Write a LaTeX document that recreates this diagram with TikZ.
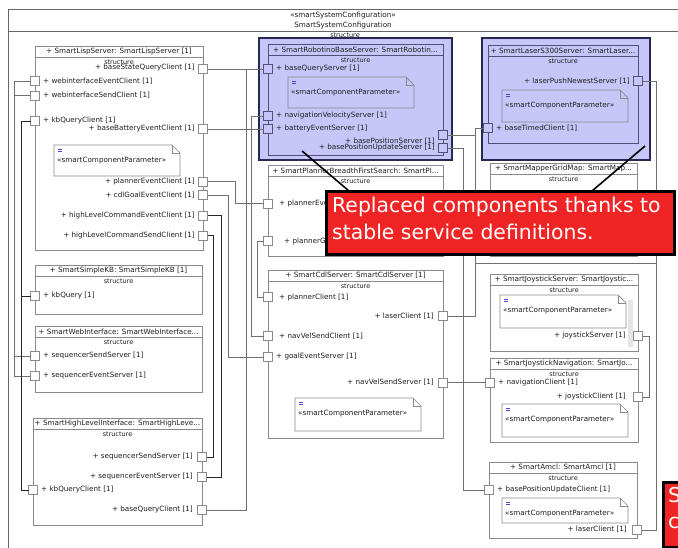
\documentclass[tikz,border=0pt]{standalone}
\usepackage{fontspec}
\setmainfont{DejaVu Sans}
\usetikzlibrary{calc}

\definecolor{partgray}{RGB}{138,138,138}
\definecolor{conngray}{RGB}{112,112,112}
\definecolor{txt}{RGB}{30,30,30}
\definecolor{selfill}{RGB}{198,198,248}
\definecolor{selborder}{RGB}{40,40,85}
\definecolor{selpartcol}{RGB}{80,80,120}
\definecolor{iconblue}{RGB}{70,70,210}
\definecolor{calloutred}{RGB}{240,36,36}

% one part (component instance) with its header line, title and "structure" caption
\newcommand\partbox[7]{%
  \node[partframe,#7,minimum width={(#4)-(#2)},minimum height={(#5)-(#3)}] (#1) at ({((#2)+(#4))/2},{((#3)+(#5))/2}) {};
  \draw[#7,fill=none,line width=0.8pt] ([yshift=-11pt]#1.north west) -- ([yshift=-11pt]#1.north east);
  \node[ttl] (#1-title) at ({((#2)+(#4))/2},{(#3)+5.5}) {#6};
  \node[struct] (#1-struct) at ({((#2)+(#4))/2},{(#3)+16}) {structure};
}
% parameter note with folded corner
\newcommand\notebox[6]{%
  \draw[notebody,fill=#6] (#2,#3) -- ({(#4)-8},#3) -- (#4,{(#3)+8}) -- (#4,#5) -- (#2,#5) -- cycle;
  \draw[notebody] ({(#4)-8},#3) -- ({(#4)-8},{(#3)+8}) -- (#4,{(#3)+8});
  \draw[iconline] ({(#2)+4},{(#3)+4.5}) -- ++(4,0) ({(#2)+4},{(#3)+6.5}) -- ++(4,0);
  \node[lbl,anchor=west] (#1-note) at ({(#2)+3},{(#3)+16}) {«smartComponentParameter»};
}

\tikzset{
  sysframe/.style={draw=black!60, line width=0.8pt, fill=white, inner sep=0pt, outer sep=0pt, rectangle},
  selbox/.style={draw=selborder, line width=1.4pt, fill=selfill, inner sep=0pt, outer sep=0pt, rectangle},
  partframe/.style={line width=0.8pt, inner sep=0pt, outer sep=0pt, rectangle},
  plainpart/.style={draw=partgray, fill=white},
  selpart/.style={draw=selpartcol, fill=selfill},
  ttl/.style={font=\fontsize{7.2}{8}\selectfont, text=txt, inner sep=0pt},
  struct/.style={font=\fontsize{6.5}{7}\selectfont, text=txt, inner sep=0pt},
  lbl/.style={font=\fontsize{7.2}{8}\selectfont, text=txt, inner sep=0pt},
  notebody/.style={draw=partgray, line width=0.7pt},
  iconline/.style={draw=iconblue, line width=0.6pt},
  port/.style={draw=partgray, fill=white, line width=0.8pt, rectangle, minimum size=9pt, inner sep=0pt, outer sep=0pt},
  selport/.style={port, draw=selpartcol, fill=selfill},
  conn/.style={draw=conngray, line width=0.8pt},
  connk/.style={draw=black!85, line width=0.9pt},
  callout/.style={fill=calloutred, draw=black, line width=2.8pt, rectangle, inner sep=0pt},
  calltext/.style={font=\fontsize{20.4}{24}\selectfont, text=white, inner sep=0pt, anchor=base west},
  pointer/.style={draw=black, line width=1.6pt}
}

\begin{document}
\begin{tikzpicture}[x=1pt,y=-1pt]
\clip (0,0) rectangle (678,548);
\fill[white] (0,0) rectangle (678,548);

% system configuration frame
\node[sysframe, minimum width=700, minimum height=560, anchor=north west] (sys) at (8,9) {};
\draw[draw=black!60, line width=0.8pt] (sys.north west |- 0,31) -- (700,31);
\node[lbl] (sys-stereo) at (343,16) {«smartSystemConfiguration»};
\node[lbl] (sys-name) at (343,25.5) {SmartSystemConfiguration};
\node[struct] (sys-struct) at (345,35.5) {structure};

% highlighted (replaced) components
\node[selbox, minimum width=193, minimum height=122, anchor=north west] (robhl) at (259,38) {};
\node[selbox, minimum width=168, minimum height=122, anchor=north west] (lashl) at (482,38) {};

% parts
\partbox{lisp}{35}{46}{203}{250}{+ SmartLispServer: SmartLispServer [1]}{plainpart}
\partbox{kb}{35}{265}{202}{314}{+ SmartSimpleKB: SmartSimpleKB [1]}{plainpart}
\partbox{web}{35}{326}{202}{392}{+ SmartWebInterface: SmartWebInterface...}{plainpart}
\partbox{hli}{33}{418}{202}{525}{+ SmartHighLevelInterface: SmartHighLeve...}{plainpart}
\partbox{rob}{268}{44}{443}{155}{+ SmartRobotinoBaseServer: SmartRobotin...}{selpart}
\partbox{las}{488}{45}{638}{143}{+ SmartLaserS300Server: SmartLaser...}{selpart}
\partbox{plan}{268}{165}{443}{256}{+ SmartPlannerBreadthFirstSearch: SmartPl...}{plainpart}
\partbox{cdl}{268}{270}{443}{438}{+ SmartCdlServer: SmartCdlServer [1]}{plainpart}
\partbox{map}{490}{163}{637}{256}{+ SmartMapperGridMap: SmartMap...}{plainpart}
\partbox{joy}{490}{274}{638}{351}{+ SmartJoystickServer: SmartJoystic...}{plainpart}
\partbox{jnav}{490}{358}{638}{442}{+ SmartJoystickNavigation: SmartJo...}{plainpart}
\partbox{amcl}{489}{462}{637}{538}{+ SmartAmcl: SmartAmcl [1]}{plainpart}

% scroll strip inside the joystick server
\fill[black!10] (628,300) rectangle (633,347);

% parameter notes
\notebox{lisp}{54}{145}{180}{176}{white}
\notebox{rob}{288}{77}{414}{108}{selfill}
\notebox{las}{502}{90}{628}{122}{selfill}
\notebox{cdl}{295}{398}{421}{431}{white}
\notebox{joy}{500}{295}{626}{328}{white}
\notebox{jnav}{502}{404}{628}{437}{white}
\notebox{amcl}{502}{498}{628}{523}{white}

% ---- ports and their labels ----
% SmartLispServer
\node[port] (bsqc) at (203,69) {};
\node[port] (wiec) at (35,81) {};
\node[port] (wisc) at (35,95.5) {};
\node[port] (kbqc) at (35,121) {};
\node[port] (bbec) at (203,129) {};
\node[port] (pec) at (203,181.5) {};
\node[port] (cgec) at (203,195) {};
\node[port] (hlcec) at (203,215.5) {};
\node[port] (hlcsc) at (203,235.5) {};
\node[lbl,anchor=east] (bsqc-l) at (195,68) {+ baseStateQueryClient [1]};
\node[lbl,anchor=west] (wiec-l) at (43,81) {+ webinterfaceEventClient [1]};
\node[lbl,anchor=west] (wisc-l) at (43,95.5) {+ webinterfaceSendClient [1]};
\node[lbl,anchor=west] (kbqc-l) at (43,121) {+ kbQueryClient [1]};
\node[lbl,anchor=east] (bbec-l) at (195,129) {+ baseBatteryEventClient [1]};
\node[lbl,anchor=east] (pec-l) at (195,181.5) {+ plannerEventClient [1]};
\node[lbl,anchor=east] (cgec-l) at (195,195) {+ cdlGoalEventClient [1]};
\node[lbl,anchor=east] (hlcec-l) at (195,215.5) {+ highLevelCommandEventClient [1]};
\node[lbl,anchor=east] (hlcsc-l) at (195,235.5) {+ highLevelCommandSendClient [1]};

% SmartSimpleKB
\node[port] (kbq) at (35,296) {};
\node[lbl,anchor=west] (kbq-l) at (43,296) {+ kbQuery [1]};

% SmartWebInterface
\node[port] (sss) at (35,356) {};
\node[port] (ses) at (35,376) {};
\node[lbl,anchor=west] (sss-l) at (43,356) {+ sequencerSendServer [1]};
\node[lbl,anchor=west] (ses-l) at (43,376) {+ sequencerEventServer [1]};

% SmartHighLevelInterface
\node[port] (hsss) at (202,457) {};
\node[port] (hses) at (202,477) {};
\node[port] (hkbqc) at (33,490) {};
\node[port] (hbqc) at (202,510) {};
\node[lbl,anchor=east] (hsss-l) at (193,457) {+ sequencerSendServer [1]};
\node[lbl,anchor=east] (hses-l) at (193,477) {+ sequencerEventServer [1]};
\node[lbl,anchor=west] (hkbqc-l) at (41,490) {+ kbQueryClient [1]};
\node[lbl,anchor=east] (hbqc-l) at (193,510) {+ baseQueryClient [1]};

% SmartRobotinoBaseServer
\node[selport] (bqs) at (268,69) {};
\node[selport] (nvs) at (268,116) {};
\node[selport] (bes) at (268,129) {};
\node[selport] (bps) at (443,135) {};
\node[selport] (bpus) at (443,148) {};
\node[lbl,anchor=west] (bqs-l) at (276,69) {+ baseQueryServer [1]};
\node[lbl,anchor=west] (nvs-l) at (276,116) {+ navigationVelocityServer [1]};
\node[lbl,anchor=west] (bes-l) at (276,129) {+ batteryEventServer [1]};
\node[lbl,anchor=east] (bps-l) at (435,141.5) {+ basePositionServer [1]};
\node[lbl,anchor=east] (bpus-l) at (435,148) {+ basePositionUpdateServer [1]};

% SmartLaserS300Server
\node[selport] (lpns) at (638,81) {};
\node[selport] (btc) at (488,128) {};
\node[lbl,anchor=east] (lpns-l) at (630,81) {+ laserPushNewestServer [1]};
\node[lbl,anchor=west] (btc-l) at (496,128.5) {+ baseTimedClient [1]};

% SmartPlannerBreadthFirstSearch
\node[port] (pes) at (268,203.5) {};
\node[port] (pgs) at (268,241) {};
\node[lbl,anchor=west] (pes-l) at (279,204) {+ plannerEventServer [1]};
\node[lbl,anchor=west] (pgs-l) at (284,242) {+ plannerGoalServer [1]};

% SmartCdlServer
\node[port] (pc) at (268,297) {};
\node[port] (lc) at (443,316) {};
\node[port] (nvsc) at (268,336) {};
\node[port] (ges) at (268,357) {};
\node[port] (nvss) at (443,382.5) {};
\node[lbl,anchor=west] (pc-l) at (279,297.5) {+ plannerClient [1]};
\node[lbl,anchor=east] (lc-l) at (434,316) {+ laserClient [1]};
\node[lbl,anchor=west] (nvsc-l) at (279,336) {+ navVelSendClient [1]};
\node[lbl,anchor=west] (ges-l) at (276,357) {+ goalEventServer [1]};
\node[lbl,anchor=east] (nvss-l) at (434,382) {+ navVelSendServer [1]};

% SmartJoystickServer / SmartJoystickNavigation
\node[port] (js) at (638,336) {};
\node[lbl,anchor=east] (js-l) at (626,336) {+ joystickServer [1]};
\node[port] (nc) at (490,382.5) {};
\node[port] (jc) at (638,397) {};
\node[lbl,anchor=west] (nc-l) at (498,383) {+ navigationClient [1]};
\node[lbl,anchor=east] (jc-l) at (626,396.5) {+ joystickClient [1]};

% SmartAmcl
\node[port] (bpuc) at (489,490) {};
\node[port] (alc) at (637,530) {};
\node[lbl,anchor=west] (bpuc-l) at (497,490) {+ basePositionUpdateClient [1]};
\node[lbl,anchor=east] (alc-l) at (627,529) {+ laserClient [1]};

% ---- routing rails ----
\coordinate (lA) at (14,0);
\coordinate (lB) at (21,0);
\coordinate (cA) at (213,0);
\coordinate (cB) at (221,0);
\coordinate (cC) at (228,0);
\coordinate (cD) at (235,0);
\coordinate (cE) at (246,0);
\coordinate (cF) at (251,0);
\coordinate (cG) at (257,0);
\coordinate (rA) at (463,0);
\coordinate (rB) at (475,0);
\coordinate (rD) at (649,0);
\coordinate (rC) at (656,0);
\coordinate (lasersplit) at (656,263);

% ---- connectors ----
\draw[conn] (wiec.west) -- (wiec.west -| lA) |- (ses.west);
\draw[conn] (wisc.west) -- (wisc.west -| lA) |- (sss.west);
\draw[connk] (kbqc.west) -- (kbqc.west -| lB) |- (hkbqc.west);
\draw[connk] (kbq.west -| lB) -- (kbq.west);

\draw[conn] (bsqc.east) -- (bqs.west);
\draw[conn] (hbqc.east) -- (hbqc.east -| cE) |- (bsqc.east);
\draw[conn] (bbec.east) -- (bes.west);
\draw[conn] (pec.east) -- (pec.east -| cD) |- (pes.west);
\draw[conn] (cgec.east) -- (cgec.east -| cC) |- (ges.west);
\draw[connk] (hlcec.east) -- (hlcec.east -| cB) |- (hses.east);
\draw[connk] (hlcsc.east) -- (hlcsc.east -| cA) |- (hsss.east);
\draw[conn] (nvs.west) -- (nvs.west -| cF) |- (nvsc.west);
\draw[conn] (pgs.west) -- (pgs.west -| cG) |- (pc.west);

\draw[conn] (bpus.east) -- (bpus.east -| rA) |- (bpuc.west);
\draw[conn] (btc.west) -- (btc.west -| rB) |- (lc.east);
\draw[conn] (bps.east) -- (bps.east -| rB);
\draw[conn] (lpns.east) -- (lpns.east -| rC) |- (alc.east);
\draw[conn] (lasersplit) -- (lasersplit -| rB);
\draw[conn] (js.east) -- (js.east -| rD) |- (jc.east);
\draw[conn] (nvss.east) -- (nc.west);

% ---- remarks ----
\coordinate (ptr1) at (302,151);
\coordinate (ptr1end) at (349,191);
\coordinate (ptr2) at (645,146);
\coordinate (ptr2end) at (592,191);
\draw[pointer] (ptr1) -- (ptr1end);
\draw[pointer] (ptr2) -- (ptr2end);
\node[callout, minimum width=348, minimum height=63, anchor=north west] (remark) at (325,190) {};
\node[calltext] (remark-l1) at (332,213) {Replaced components thanks to};
\node[calltext] (remark-l2) at (332,240) {stable service definitions.};

\node[callout, minimum width=40, minimum height=65, anchor=north west] (remark2) at (662,481) {};
\node[calltext] (remark2-l1) at (668,502) {S};
\node[calltext] (remark2-l2) at (668,528) {c};
\end{tikzpicture}
\end{document}
